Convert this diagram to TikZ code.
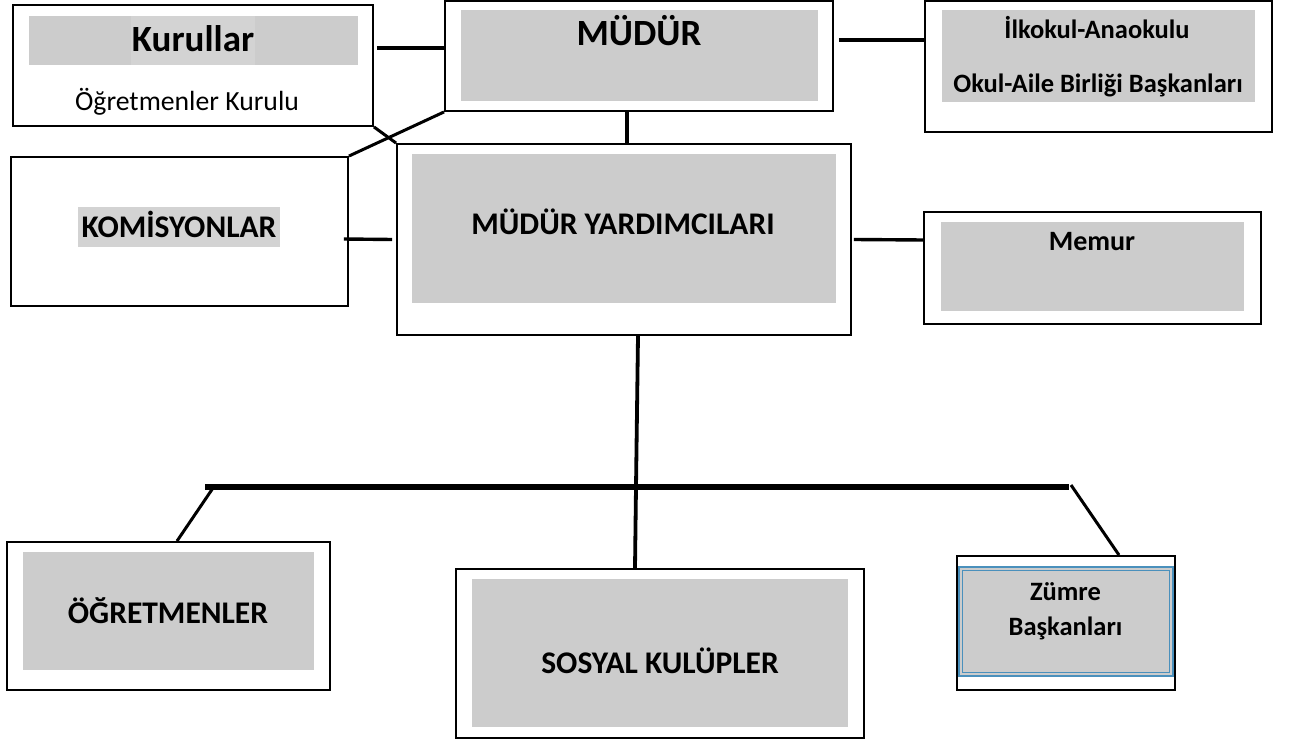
\documentclass[tikz,border=0pt]{standalone}
\usepackage{fontspec}
\setmainfont{Carlito}
\usetikzlibrary{calc}
\definecolor{boxgray}{HTML}{CCCCCC}
\definecolor{hlgray}{HTML}{D3D3D3}
\definecolor{zblue}{RGB}{74,144,188}
\tikzset{
  obox/.style={draw=black, line width=1.9pt, fill=white, rectangle, inner sep=0pt},
  conn/.style={draw=black, line width=3.4pt},
  thinconn/.style={draw=black, line width=3pt},
  bar/.style={draw=black, line width=6pt},
  lbl/.style={anchor=base, inner sep=0pt, font=\bfseries\fontsize{31.5}{34}\selectfont},
  biglbl/.style={anchor=base, inner sep=0pt, font=\bfseries\fontsize{37}{40}\selectfont},
  midlbl/.style={anchor=base, inner sep=0pt, font=\bfseries\fontsize{26.5}{30}\selectfont},
}
\begin{document}
\begin{tikzpicture}[x=1pt, y=-1pt]
\useasboundingbox[fill=white] (0,0) rectangle (1299,743);

% outer boxes
\node[obox, minimum width=360pt, minimum height=121pt] (kur) at (193,65.5) {};
\node[obox, minimum width=388pt, minimum height=110pt] (mud) at (639,56) {};
\node[obox, minimum width=347pt, minimum height=131pt] (ilk) at (1098.5,66.5) {};
\node[obox, minimum width=337pt, minimum height=149pt] (kom) at (179.5,231.5) {};
\node[obox, minimum width=454pt, minimum height=191pt] (my) at (624,239.5) {};
\node[obox, minimum width=337pt, minimum height=112pt] (mem) at (1092.5,268) {};
\node[obox, minimum width=323pt, minimum height=148pt] (ogr) at (168.5,616) {};
\node[obox, minimum width=408pt, minimum height=169pt] (sos) at (660,653.5) {};
\node[obox, minimum width=218pt, minimum height=134pt] (zum) at (1066,623) {};

% gray inner panels
\fill[boxgray] (29,16) rectangle (358,65);
\fill[hlgray] (131,16) rectangle (255,65);
\fill[boxgray] (461,10) rectangle (818,101);
\fill[boxgray] (942,10) rectangle (1255,102);
\fill[hlgray] (78,207) rectangle (280,247);
\fill[boxgray] (412,154) rectangle (836,303);
\fill[boxgray] (941,222) rectangle (1244,311);
\fill[boxgray] (23,552) rectangle (314,670);
\fill[boxgray] (472,579) rectangle (848,727);
\fill[boxgray] (959,567) rectangle (1173,676);
\draw[zblue, line width=1.4pt] (959,567) rectangle (1173,676);
\draw[zblue, line width=0.8pt] (962.5,570.5) rectangle (1169.5,672.5);

% texts
\node[biglbl] (tkur) at (193,52) {Kurullar};
\node[anchor=base, inner sep=0pt, font=\fontsize{27.7}{30}\selectfont] (togk) at (187,111) {Öğretmenler Kurulu};
\node[biglbl] (tmud) at (639,46) {MÜDÜR};
\node[midlbl] (tilk1) at (1097,39) {İlkokul-Anaokulu};
\node[midlbl] (tilk2) at (1098,93) {Okul-Aile Birliği Başkanları};
\node[lbl] (tkom) at (179,238) {KOMİSYONLAR};
\node[lbl] (tmy) at (623,235) {MÜDÜR YARDIMCILARI};
\node[anchor=base, inner sep=0pt, font=\bfseries\fontsize{28}{30}\selectfont] (tmem) at (1092,251) {Memur};
\node[lbl] (togr) at (168,623) {ÖĞRETMENLER};
\node[lbl] (tsos) at (660,673) {SOSYAL KULÜPLER};
\node[anchor=base, inner sep=0pt, font=\bfseries\fontsize{26.5}{30}\selectfont] (tzum1) at (1065.5,600) {Zümre};
\node[anchor=base, inner sep=0pt, font=\bfseries\fontsize{26.5}{30}\selectfont] (tzum2) at (1065.5,635) {Başkanları};

% connector junctions
\coordinate (j) at (636,487);
\coordinate (barL) at (205,487);
\coordinate (barR) at (1069,487);
\coordinate (barLd) at (213,488);
\coordinate (barRd) at (1071,485);

% connectors
\draw[conn] ($(kur.east)+(3,-17.5)$) -- ($(mud.west)+(0,-8)$);
\draw[conn] ($(mud.east)+(5,-16)$) -- ($(ilk.west)+(0,-26.5)$);
\draw[conn, line width=3.8pt] ($(mud.south)+(-12,0)$) -- ($(my.north)+(3,0)$);
\draw[thinconn] (mud.south west) -- (kom.north east);
\draw[thinconn] (kur.south east) -- (my.north west);
\draw[conn] ($(kom.east)+(-5,7.5)$) -- ($(my.west)+(-4,0)$);
\draw[conn] ($(my.east)+(2,0)$) -- ($(mem.west)+(0,-28)$);
\draw[conn, line width=3.8pt] ($(my.south)+(14,0)$) -- (j) -- ($(sos.north)+(-25,0)$);
\draw[bar] (barL) -- (barR);
\draw[thinconn] (barLd) -- ($(ogr.north)+(8.5,0)$);
\draw[thinconn] (barRd) -- ($(zum.north)+(53,0)$);
\end{tikzpicture}
\end{document}
